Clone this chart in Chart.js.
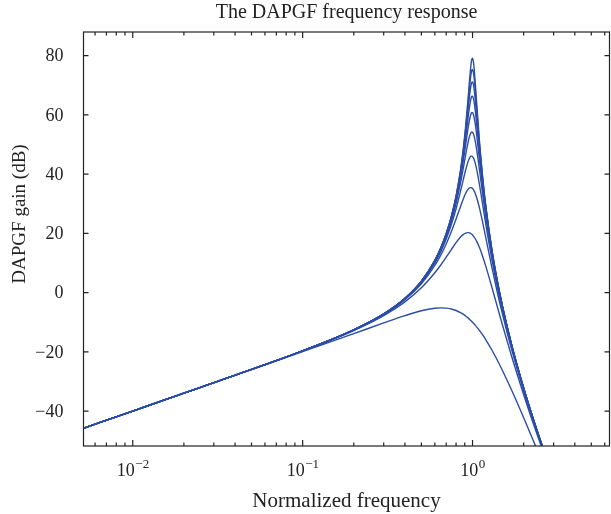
<!DOCTYPE html>
<html>
<head>
<meta charset="utf-8">
<script src="https://cdn.jsdelivr.net/npm/chart.js@4.4.1/dist/chart.umd.min.js"></script>
<style>
  html, body { margin: 0; padding: 0; background: #fff; }
  canvas { display: block; }
</style>
</head>
<body>
<canvas id="chart" width="611" height="514"></canvas>
<script>
// Normalized frequency samples (shared by all curves)
const freq = [0.005, 0.01, 0.02, 0.05, 0.1, 0.2, 0.3, 0.4, 0.5, 0.6, 0.65, 0.7, 0.75, 0.8, 0.85, 0.88, 0.91, 0.94, 0.96, 0.98, 0.99, 1.0, 1.01, 1.02, 1.04, 1.06, 1.1, 1.15, 1.2, 1.3, 1.4, 1.5, 1.7, 2.0, 2.3, 2.7];

// Gain in dB, one array per curve (lowest peak to highest peak)
const gain1 = [-46.02, -40.0, -33.98, -26.01, -19.96, -13.85, -10.25, -7.79, -6.14, -5.28, -5.15, -5.24, -5.54, -6.05, -6.77, -7.29, -7.88, -8.53, -9.00, -9.48, -9.74, -10.0, -10.26, -10.53, -11.08, -11.65, -12.83, -14.39, -16.01, -19.39, -22.84, -26.29, -32.99, -42.26, -50.53, -60.19];
const gain2 = [-46.02, -40.0, -33.97, -25.95, -19.71, -12.81, -7.79, -3.14, 1.62, 6.69, 9.32, 11.97, 14.54, 16.88, 18.77, 19.59, 20.10, 20.26, 20.15, 19.88, 19.68, 19.44, 19.16, 18.84, 18.10, 17.22, 15.12, 12.05, 8.70, 1.80, -4.82, -10.93, -21.58, -34.50, -44.92, -56.28];
const gain3 = [-46.02, -40.0, -33.97, -25.94, -19.67, -12.66, -7.43, -2.41, 2.98, 9.16, 12.64, 16.43, 20.52, 24.83, 29.11, 31.47, 33.45, 34.85, 35.36, 35.46, 35.35, 35.15, 34.84, 34.43, 33.33, 31.93, 28.43, 23.40, 18.21, 8.49, 0.04, -7.26, -19.27, -33.14, -44.01, -55.68];
const gain4 = [-46.02, -40.0, -33.97, -25.94, -19.66, -12.61, -7.32, -2.18, 3.43, 10.02, 13.84, 18.11, 22.93, 28.33, 34.25, 37.88, 41.32, 44.14, 45.43, 46.05, 46.09, 45.92, 45.57, 45.03, 43.46, 41.37, 36.25, 29.34, 22.73, 11.26, 1.89, -5.92, -18.48, -32.69, -43.71, -55.49];
const gain5 = [-46.02, -40.0, -33.97, -25.93, -19.66, -12.59, -7.27, -2.07, 3.63, 10.40, 14.38, 18.90, 24.10, 30.12, 37.09, 41.67, 46.33, 50.59, 52.76, 54.03, 54.24, 54.14, 53.72, 53.02, 50.85, 47.97, 41.23, 32.77, 25.16, 12.63, 2.78, -5.31, -18.12, -32.49, -43.58, -55.41];
const gain6 = [-46.02, -40.0, -33.97, -25.93, -19.66, -12.58, -7.24, -2.02, 3.74, 10.61, 14.68, 19.33, 24.74, 31.14, 38.79, 44.05, 49.69, 55.26, 58.37, 60.39, 60.80, 60.77, 60.29, 59.38, 56.53, 52.81, 44.55, 34.88, 26.58, 13.40, 3.26, -4.97, -17.93, -32.38, -43.51, -55.36];
const gain7 = [-46.02, -40.0, -33.97, -25.93, -19.65, -12.58, -7.22, -1.99, 3.81, 10.74, 14.86, 19.59, 25.14, 31.77, 39.87, 45.62, 52.03, 58.75, 62.80, 65.62, 66.29, 66.34, 65.77, 64.63, 61.03, 56.45, 46.86, 36.26, 27.48, 13.87, 3.55, -4.77, -17.81, -32.32, -43.47, -55.34];
const gain8 = [-46.02, -40.0, -33.97, -25.93, -19.65, -12.57, -7.21, -1.97, 3.85, 10.82, 14.97, 19.76, 25.39, 32.18, 40.61, 46.70, 53.71, 61.42, 66.35, 70.05, 70.99, 71.14, 70.48, 69.06, 64.66, 59.26, 48.51, 37.20, 28.08, 14.17, 3.74, -4.64, -17.74, -32.28, -43.44, -55.32];
const gain9 = [-46.02, -40.0, -33.97, -25.93, -19.65, -12.57, -7.21, -1.95, 3.87, 10.87, 15.05, 19.87, 25.57, 32.47, 41.12, 47.47, 54.94, 63.48, 69.26, 73.84, 75.09, 75.36, 74.58, 72.88, 67.63, 61.45, 49.73, 37.86, 28.50, 14.38, 3.87, -4.56, -17.69, -32.25, -43.43, -55.31];
const gain10 = [-46.02, -40.0, -33.97, -25.93, -19.65, -12.57, -7.20, -1.94, 3.89, 10.91, 15.10, 19.96, 25.69, 32.68, 41.49, 48.04, 55.87, 65.11, 71.65, 77.14, 78.73, 79.12, 78.22, 76.19, 70.09, 63.19, 50.64, 38.35, 28.80, 14.53, 3.96, -4.49, -17.65, -32.23, -43.41, -55.30];

// Axis ticks
const yTicks = [-40, -20, 0, 20, 40, 60, 80];
const xDecades = [-2, -1, 0];

const curves = [gain1, gain2, gain3, gain4, gain5, gain6, gain7, gain8, gain9, gain10];
const LINE_COLOR = '#2b4da8';
const AXIS_COLOR = '#222';
const FONT = '"Liberation Serif", "Times New Roman", serif';

const datasets = curves.map(g => ({
  data: freq.map((f, i) => ({ x: f, y: g[i] })),
  borderColor: LINE_COLOR,
  borderWidth: 1.4,
  pointRadius: 0,
  cubicInterpolationMode: 'monotone',
  fill: false
}));

// Frame, inward ticks and all text
const framePlugin = {
  id: 'frame',
  afterDraw(chart) {
    const { ctx, chartArea: a, scales } = chart;
    const xs = scales.x, ys = scales.y;
    ctx.save();
    ctx.strokeStyle = AXIS_COLOR;
    ctx.lineWidth = 1.2;
    ctx.strokeRect(a.left, a.top, a.right - a.left, a.bottom - a.top);

    // y ticks, left and right
    ctx.beginPath();
    yTicks.forEach(v => {
      const y = ys.getPixelForValue(v);
      ctx.moveTo(a.left, y); ctx.lineTo(a.left + 5, y);
      ctx.moveTo(a.right, y); ctx.lineTo(a.right - 5, y);
    });
    // x ticks, bottom and top
    for (let d = -3; d <= 1; d++) {
      for (let k = 1; k <= 9; k++) {
        const v = k * Math.pow(10, d);
        if (v < xs.min || v > xs.max) continue;
        const x = xs.getPixelForValue(v);
        const len = k === 1 ? 6 : 3.5;
        ctx.moveTo(x, a.bottom); ctx.lineTo(x, a.bottom - len);
        ctx.moveTo(x, a.top); ctx.lineTo(x, a.top + len);
      }
    }
    ctx.stroke();

    ctx.fillStyle = AXIS_COLOR;
    // y labels
    ctx.font = '18px ' + FONT;
    ctx.textAlign = 'right';
    ctx.textBaseline = 'middle';
    yTicks.forEach(v => {
      const label = v < 0 ? '\u2212' + Math.abs(v) : String(v);
      ctx.fillText(label, a.left - 20, ys.getPixelForValue(v) + 1);
    });

    // x labels: 10 with superscript exponent
    ctx.textBaseline = 'alphabetic';
    ctx.textAlign = 'left';
    xDecades.forEach(e => {
      const x = xs.getPixelForValue(Math.pow(10, e));
      const base = '10';
      const sup = e < 0 ? '\u2212' + Math.abs(e) : String(e);
      ctx.font = '18px ' + FONT;
      const wb = ctx.measureText(base).width;
      ctx.font = '13px ' + FONT;
      const ws = ctx.measureText(sup).width;
      const x0 = x - (wb + ws) / 2;
      ctx.font = '18px ' + FONT;
      ctx.fillText(base, x0, a.bottom + 30);
      ctx.font = '13px ' + FONT;
      ctx.fillText(sup, x0 + wb + 0.5, a.bottom + 22);
    });

    // axis titles and chart title
    ctx.textAlign = 'center';
    ctx.font = '21px ' + FONT;
    ctx.fillText('Normalized frequency', (a.left + a.right) / 2, a.bottom + 61);
    ctx.font = '20px ' + FONT;
    ctx.fillText('The DAPGF frequency response', (a.left + a.right) / 2, 18);

    ctx.save();
    ctx.translate(25, 214);
    ctx.rotate(-Math.PI / 2);
    ctx.font = '19px ' + FONT;
    ctx.fillText('DAPGF gain (dB)', 0, 0);
    ctx.restore();
    ctx.restore();
  }
};

new Chart(document.getElementById('chart'), {
  type: 'line',
  data: { datasets },
  options: {
    responsive: false,
    animation: false,
    devicePixelRatio: 1,
    layout: { padding: { left: 83.5, right: 1.5, top: 32, bottom: 68 } },
    scales: {
      x: {
        type: 'logarithmic',
        min: 0.00513,
        max: 6.4,
        ticks: { display: false },
        grid: { display: false, drawTicks: false },
        border: { display: false }
      },
      y: {
        type: 'linear',
        min: -51.8,
        max: 88,
        ticks: { display: false },
        grid: { display: false, drawTicks: false },
        border: { display: false }
      }
    },
    plugins: {
      legend: { display: false },
      title: { display: false },
      tooltip: { enabled: false }
    }
  },
  plugins: [framePlugin]
});
</script>
</body>
</html>
